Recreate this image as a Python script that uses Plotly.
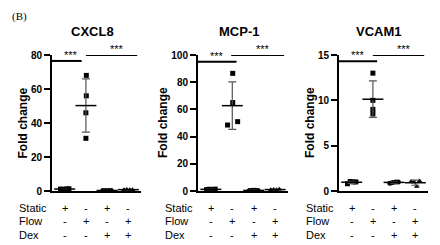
import plotly.graph_objects as go

# The page body adds an 8px margin, so the figure is laid out 8px smaller and shifted.
OFF = 8
W, H = 440 - OFF, 245 - OFF

panels = ["CXCL8", "MCP-1", "VCAM1"]
groups = [1, 2, 3, 4]
jitter = [-0.2, -0.07, 0.07, 0.2]

cxcl8 = [[1.1, 1.0, 1.2, 1.3], [68, 56, 46, 31], [0.3, 0.25, 0.3, 0.35], [0.8, 0.9, 0.7, 0.8]]
mcp1 = [[1.0, 1.3, 1.1, 1.4], [86.5, 65, 51, 48.5], [0.3, 0.6, 0.5, 0.4], [0.9, 1.1, 1.0, 1.2]]
vcam1 = [[0.8, 1.05, 1.0, 1.0], [13, 10, 9, 8.5], [0.85, 0.95, 1.0, 1.0], [1.05, 1.0, 0.5, 1.1]]
g2_jitter = [[0.02, 0.02, 0.0, 0.0], [0.02, 0.02, 0.25, -0.22], [0.0, 0.0, 0.0, 0.0]]
panel_data = [cxcl8, mcp1, vcam1]

y_max = [80, 100, 15]
y_dtick = [20, 20, 5]
sig_low = [76.5, 95, 14.3]
sig_high = [80, 100, 15]
sig_low_end = [1.8, 2.2, 2.2]
sig_high_start = [2.0, 1.95, 2.0]

row_names = ["Static", "Flow", "Dex"]
row_signs = [["+", "-", "+", "-"], ["-", "+", "-", "+"], ["-", "-", "+", "+"]]

symbols = ["square", "square", "circle", "triangle-up"]

# layout pixel positions (in the 440x245 picture)
x_dom_px = [(52, 141), (198, 288), (339, 428)]
y0_px, ytop_px = 191, 55
title_x_px = [22.5, 163, 310]
row_y_px = [208, 221, 235]


def px(v):
    return (v - OFF) / W


def py(v):
    return 1 - (v - OFF) / H


fig = go.Figure()
font = "Liberation Sans, Arial, sans-serif"


def mean_sd(v):
    m = sum(v) / len(v)
    sd = (sum((a - m) ** 2 for a in v) / (len(v) - 1)) ** 0.5
    return m, sd


for p, data in enumerate(panel_data):
    xa = "x" if p == 0 else f"x{p + 1}"
    ya = "y" if p == 0 else f"y{p + 1}"
    for g, vals in enumerate(data):
        offs = g2_jitter[p] if g == 1 else jitter
        xs = [groups[g] + o for o in offs]
        fig.add_trace(go.Scatter(
            x=xs, y=vals, mode="markers", xaxis=xa, yaxis=ya,
            marker=dict(symbol=symbols[g], size=5, color="black"),
            showlegend=False, cliponaxis=False))
        m, sd = mean_sd(vals)
        fig.add_trace(go.Scatter(
            x=[groups[g]], y=[m], mode="markers", xaxis=xa, yaxis=ya,
            marker=dict(symbol="line-ew", size=15, line=dict(width=1.5, color="black")),
            error_y=dict(type="data", array=[sd], visible=True, color="#555555", thickness=1.2, width=4),
            showlegend=False, cliponaxis=False))

layout = dict(
    width=W, height=H, autosize=False,
    margin=dict(l=0, r=0, t=0, b=0, pad=0, autoexpand=False),
    paper_bgcolor="white", plot_bgcolor="white",
    font=dict(family=font, color="black"),
    showlegend=False,
)

annotations = []
shapes = []


def ann(**kw):
    kw.setdefault("xanchor", "center")
    kw.setdefault("yanchor", "middle")
    kw.setdefault("showarrow", False)
    annotations.append(kw)


for p in range(3):
    sfx = "" if p == 0 else str(p + 1)
    x0, x1 = x_dom_px[p]
    layout["xaxis" + sfx] = dict(
        domain=[px(x0), px(x1)], range=[0.4, 4.6], showticklabels=False,
        showgrid=False, zeroline=False, showline=True, linecolor="black", linewidth=2,
        ticks="", anchor="y" + sfx, fixedrange=True, automargin=False)
    layout["yaxis" + sfx] = dict(
        domain=[py(y0_px), py(ytop_px)], range=[0, y_max[p]], dtick=y_dtick[p],
        showgrid=False, zeroline=False, showline=True, linecolor="black", linewidth=2,
        ticks="outside", ticklen=6, tickwidth=1.5, tickcolor="black",
        tickfont=dict(size=10, family=font, color="black", weight="bold"),
        anchor="x" + sfx, fixedrange=True, automargin=False)
    xr = "x" + sfx
    yr = "y" + sfx
    ann(text="<b>" + panels[p] + "</b>", xref=xr + " domain", yref="paper",
        x=0.45, y=py(31), font=dict(size=13, family=font))
    ann(text="<b>Fold change</b>", xref="paper", yref=yr + " domain",
        x=px(title_x_px[p]), y=0.5, textangle=-90, font=dict(size=12, family=font))
    shapes.append(dict(type="line", xref=xr, yref=yr, x0=0.4, x1=sig_low_end[p],
                       y0=sig_low[p], y1=sig_low[p], line=dict(color="black", width=2)))
    shapes.append(dict(type="line", xref=xr, yref=yr, x0=sig_high_start[p], x1=4.42,
                       y0=sig_high[p], y1=sig_high[p], line=dict(color="black", width=2)))
    ann(text="***", xref=xr, yref=yr, x=1.3, y=sig_low[p], yshift=6, font=dict(size=11, family=font))
    ann(text="***", xref=xr, yref=yr, x=3.45, y=sig_high[p], yshift=6, font=dict(size=11, family=font))
    for r in range(3):
        for g in range(4):
            ann(text=row_signs[r][g], xref=xr, yref="paper", x=groups[g],
                y=py(row_y_px[r]), font=dict(size=11, family=font))
        ann(text=row_names[r], xref="paper", yref="paper",
            x=px(x0 - 35), y=py(row_y_px[r]), xanchor="left", font=dict(size=11, family=font))

ann(text="(B)", xref="paper", yref="paper", x=px(10), y=1.0, xanchor="left", yanchor="top",
    font=dict(size=11, family="Liberation Serif, Times New Roman, serif"))

layout["annotations"] = annotations
layout["shapes"] = shapes
fig.update_layout(**layout)
fig.write_html("out.html")
